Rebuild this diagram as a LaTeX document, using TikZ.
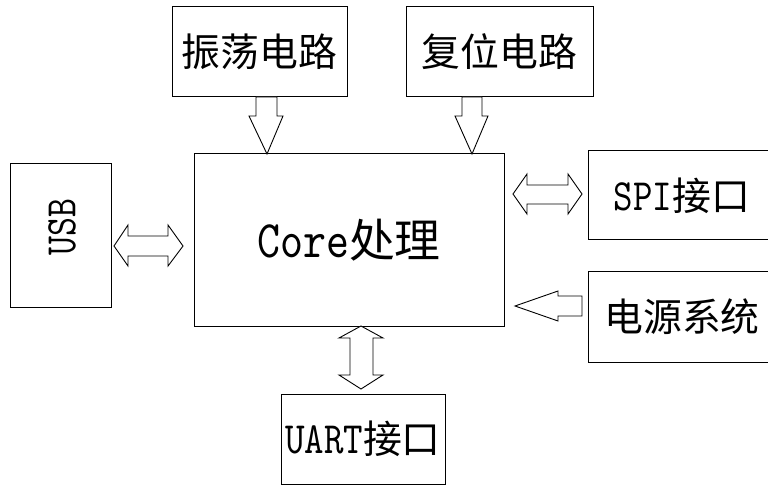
\documentclass[tikz,border=0pt]{standalone}
\usepackage{fontspec}
\newfontfamily\cjk{Noto Sans CJK SC}
\newfontfamily\lat[Extension=.otf,Scale=1.15,FakeStretch=0.83]{lmmono10-regular}
\begin{document}
\begin{tikzpicture}[x=1bp,y=-1bp,
  box/.style={draw=black,line width=1bp,rectangle,inner sep=0pt,outer sep=0pt,font=\fontsize{39}{39}\selectfont},
  blockarrow/.style={draw=black,line width=0.9bp,fill=white,line join=miter}]
\useasboundingbox (0,0) rectangle (768,485);
% boxes
\node[box,minimum width=175bp,minimum height=90bp] (osc) at (259.5,52) {\cjk 振荡电路};
\node[box,minimum width=187bp,minimum height=90bp] (rst) at (499.5,52) {\cjk 复位电路};
\node[box,minimum width=310bp,minimum height=172bp,font=\fontsize{46}{46}\selectfont] (core) at (349,240) {\lat Core\cjk 处理};
\node[box,minimum width=100bp,minimum height=143bp] (usb) at (61,235.5) {};
\node[rotate=90,inner sep=0pt,font=\fontsize{38}{38}\selectfont] (usbt) at (62,227) {\lat USB};
\node[box,minimum width=188bp,minimum height=89bp] (spi) at (682,195.5) {\lat SPI\cjk 接口};
\node[box,minimum width=188bp,minimum height=90bp] (pwr) at (682,317) {\cjk 电源系统};
\node[box,minimum width=164bp,minimum height=90bp] (uart) at (363,439) {\lat UART\cjk 接口};
% block arrows
\draw[blockarrow] (256,97) -- (277,97) -- (277,116) -- (283,116) -- (267,154) -- (249,116) -- (256,116) -- cycle;
\draw[blockarrow] (462,97) -- (482,97) -- (482,116) -- (488,116) -- (472,154) -- (455,116) -- (462,116) -- cycle;
\draw[blockarrow] (114,246) -- (128,225) -- (128,236) -- (168,236) -- (168,225) -- (183,246) -- (168,266) -- (168,256) -- (128,256) -- (128,266) -- cycle;
\draw[blockarrow] (513,194) -- (527,174) -- (527,185) -- (568,185) -- (568,174) -- (582,194) -- (568,214) -- (568,204) -- (527,204) -- (527,214) -- cycle;
\draw[blockarrow] (515,306) -- (558,291) -- (558,296) -- (582,296) -- (582,316) -- (558,316) -- (558,321) -- cycle;
\draw[blockarrow] (361,326) -- (383,338) -- (373,338) -- (373,375) -- (383,375) -- (361,389) -- (339,375) -- (350,375) -- (350,338) -- (339,338) -- cycle;
\end{tikzpicture}
\end{document}
